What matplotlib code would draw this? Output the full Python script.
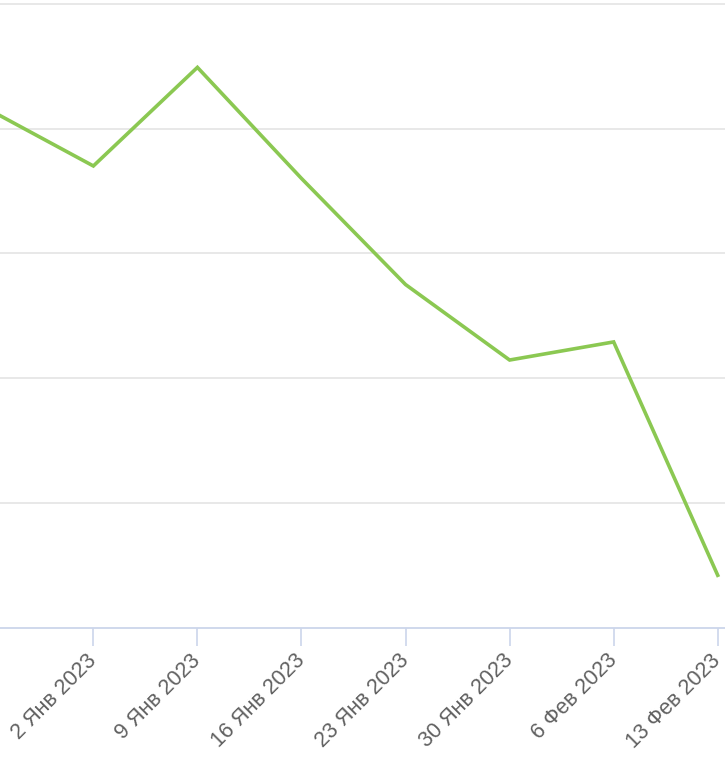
import matplotlib
matplotlib.use("Agg")
import matplotlib.pyplot as plt
import matplotlib.dates as mdates
import pandas as pd

# weekly points (first one is cut off by the left edge)
dates = ["2022-12-26", "2023-01-02", "2023-01-09", "2023-01-16",
         "2023-01-23", "2023-01-30", "2023-02-06", "2023-02-13"]
values = [415, 370, 449, 360, 275, 214.5, 229, 42]

tick_dates = dates[1:]
tick_labels = ["2 Янв 2023", "9 Янв 2023", "16 Янв 2023", "23 Янв 2023",
               "30 Янв 2023", "6 Фев 2023", "13 Фев 2023"]

x = pd.to_datetime(dates)
ticks = pd.to_datetime(tick_dates)

plt.rcParams['font.family'] = ['Liberation Sans', 'DejaVu Sans']

fig = plt.figure(figsize=(7.25, 7.68), dpi=100)
ax = fig.add_axes([0, 1 - 627.7 / 768, 1, 627.7 / 768])

ax.plot(x, values, color='#8bc852', linewidth=2.6, solid_joinstyle='miter', zorder=3)

ax.set_ylim(0, 503)
ax.set_yticks([100, 200, 300, 400, 500])
ax.yaxis.grid(True, color='#e6e6e6', linewidth=1.3)
ax.tick_params(axis='y', left=False, labelleft=False)

x0 = mdates.date2num(ticks[0]) - 6.28
x1 = mdates.date2num(ticks[-1]) + 0.49
ax.set_xlim(x0, x1)
ax.set_xticks(ticks)
ax.set_xticklabels(tick_labels, rotation=45, ha='right', va='center',
                   rotation_mode='anchor', fontsize=15.5, color='#606060')
ax.tick_params(axis='x', length=13, width=1.2, color='#ccd6eb', pad=8.5)

for side in ['top', 'right', 'left']:
    ax.spines[side].set_visible(False)
ax.spines['bottom'].set_color('#ccd6eb')
ax.spines['bottom'].set_linewidth(1.3)
ax.set_axisbelow(True)

fig.savefig("out.png", dpi=100)
